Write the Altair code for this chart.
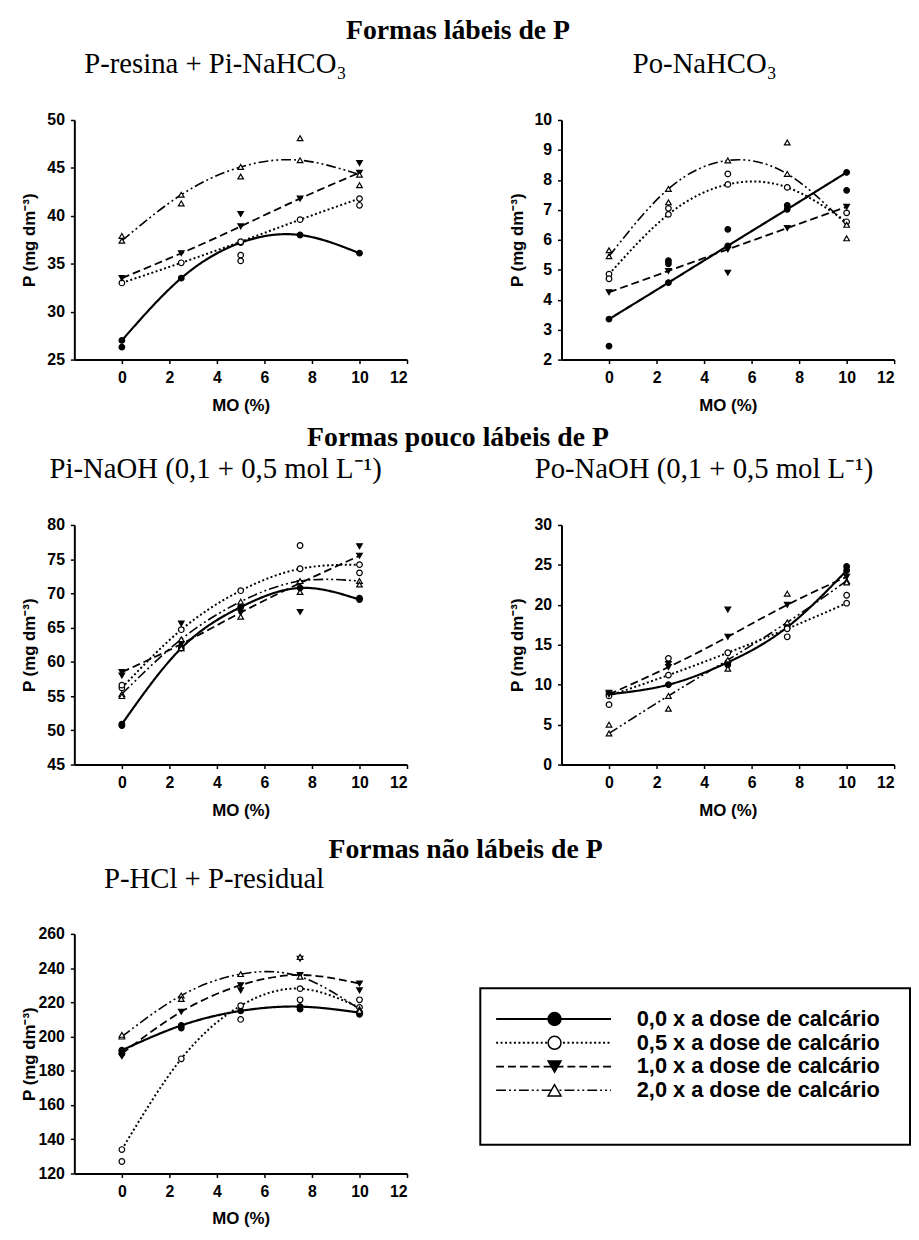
import altair as alt
import pandas as pd

# ---------------- data ----------------
MO = [0, 2.5, 5, 7.5, 10]
X_TICKS = [0, 2, 4, 6, 8, 10, 12]
SERIES = [
    "0,0 x a dose de calcário",
    "0,5 x a dose de calcário",
    "1,0 x a dose de calcário",
    "2,0 x a dose de calcário",
]
GROUPS = ["Formas lábeis de P", "Formas pouco lábeis de P", "Formas não lábeis de P"]
SUBTITLES = [
    "P-resina + Pi-NaHCO₃",
    "Po-NaHCO₃",
    "Pi-NaOH (0,1 + 0,5 mol L⁻¹)",
    "Po-NaOH (0,1 + 0,5 mol L⁻¹)",
    "P-HCl + P-residual",
]

# P-resina + Pi-NaHCO3 : fitted values at MO, and observed points (MO, P)
RES_00 = [27.0, 33.5, 37.2, 38.0, 36.1]
RES_05 = [33.0, 35.1, 37.3, 39.6, 41.8]
RES_10 = [33.5, 36.1, 38.9, 41.8, 44.5]
RES_20 = [37.4, 42.2, 45.1, 45.8, 44.3]
RES_OBS_00 = [(0, 26.3)]
RES_OBS_05 = [(5, 35.9), (5, 35.3), (10, 41.1)]
RES_OBS_10 = [(5, 40.2), (10, 45.5)]
RES_OBS_20 = [(0, 37.9), (2.5, 41.3), (5, 44.1), (7.5, 48.1), (10, 43.2)]

# Po-NaHCO3
PON_00 = [3.35, 4.57, 5.8, 7.02, 8.25]
PON_05 = [4.85, 6.85, 7.85, 7.75, 6.6]
PON_10 = [4.25, 4.96, 5.68, 6.39, 7.1]
PON_20 = [5.45, 7.7, 8.65, 8.2, 6.5]
PON_OBS_00 = [(0, 2.45), (2.5, 5.3), (2.5, 5.2), (5, 6.35), (7.5, 7.15), (10, 7.65)]
PON_OBS_05 = [(0, 4.7), (2.5, 7.05), (5, 8.2), (10, 6.9)]
PON_OBS_10 = [(5, 4.9)]
PON_OBS_20 = [(0, 5.65), (2.5, 7.25), (7.5, 9.25), (10, 6.05)]

# Pi-NaOH
PIH_00 = [50.9, 62.0, 68.0, 70.8, 69.1]
PIH_05 = [56.2, 64.7, 70.4, 73.6, 74.2]
PIH_10 = [58.5, 62.6, 67.2, 71.5, 75.5]
PIH_20 = [55.3, 63.3, 68.8, 71.8, 71.8]
PIH_OBS_00 = [(0, 50.7), (10, 69.3)]
PIH_OBS_05 = [(0, 56.6), (7.5, 77.0), (10, 73.0)]
PIH_OBS_10 = [(0, 58.0), (2.5, 65.6), (7.5, 67.3), (10, 76.9)]
PIH_OBS_20 = [(0, 55.0), (2.5, 62.0), (5, 66.6), (7.5, 70.2), (10, 71.3)]

# Po-NaOH
POH_00 = [8.8, 10.0, 12.8, 17.2, 24.3]
POH_05 = [8.6, 11.2, 14.0, 17.0, 20.2]
POH_10 = [8.8, 12.2, 16.0, 20.0, 23.5]
POH_20 = [3.9, 8.6, 13.1, 17.8, 23.0]
POH_OBS_00 = [(10, 24.8), (5, 12.5)]
POH_OBS_05 = [(0, 7.5), (2.5, 13.3), (7.5, 16.0), (10, 21.2)]
POH_OBS_10 = [(0, 9.0), (2.5, 12.6), (5, 19.4)]
POH_OBS_20 = [(0, 5.0), (2.5, 7.0), (5, 12.0), (7.5, 21.4), (10, 22.8)]

# P-HCl + P-residual
HCL_00 = [192, 206.5, 215, 217.5, 214]
HCL_05 = [134, 187, 218, 228, 217]
HCL_10 = [190, 214.5, 230, 236, 231]
HCL_20 = [200, 224, 236.5, 235, 216]
HCL_OBS_00 = [(0, 190), (2.5, 205), (7.5, 216), (10, 213)]
HCL_OBS_05 = [(0, 127), (5, 210), (7.5, 221.5), (10, 221.5)]
HCL_OBS_10 = [(0, 188.5), (5, 227), (7.5, 245.5), (10, 227)]
HCL_OBS_20 = [(0, 201), (2.5, 222), (7.5, 246.5), (10, 215)]

# ---------------- styles ----------------
DASHES = [[1, 0], [2, 2.5], [8, 4], [10, 3, 2, 3, 2, 3]]
WIDTHS = [2.2, 1.6, 2.2, 2.0]
SHAPES = ["circle", "circle", "triangle-down", "triangle-up"]
FILLS = ["black", "white", "black", "white"]
PW, PH = 336, 242
AX_FONT = "Liberation Sans"
SERIF = "Liberation Serif"

dash_enc = alt.StrokeDash("serie:N", scale=alt.Scale(domain=SERIES, range=DASHES), legend=None)
width_enc = alt.StrokeWidth("serie:N", scale=alt.Scale(domain=SERIES, range=WIDTHS), legend=None)
shape_enc = alt.Shape("serie:N", scale=alt.Scale(domain=SERIES, range=SHAPES), legend=None)
fill_enc = alt.Fill("serie:N", scale=alt.Scale(domain=SERIES, range=FILLS), legend=None)


def panel(fits, obs, ydom, yvals, sub, dx, ytitle_pad=8, sub_offset=33):
    fit_rows = []
    for s, vals in zip(SERIES, fits):
        for xv, yv in zip(MO, vals):
            fit_rows.append({"mo": xv, "p": yv, "serie": s})
    obs_rows = []
    for s, pts in zip(SERIES, obs):
        for xv, yv in pts:
            obs_rows.append({"mo": xv, "p": yv, "serie": s})
    fit_df = pd.DataFrame(fit_rows)
    pts_df = pd.concat([fit_df, pd.DataFrame(obs_rows)], ignore_index=True)

    x = alt.X("mo:Q", scale=alt.Scale(domain=[-2, 12], nice=False, zero=False),
              axis=alt.Axis(values=X_TICKS, title="MO (%)", format="d"))
    y = alt.Y("p:Q", scale=alt.Scale(domain=ydom, nice=False, zero=False),
              axis=alt.Axis(values=yvals, title="P (mg dm⁻³)", titlePadding=ytitle_pad, format="d"))
    lines = alt.Chart(fit_df).mark_line(interpolate="natural", color="black").encode(
        x=x, y=y, strokeDash=dash_enc, strokeWidth=width_enc, detail="serie:N")
    points = alt.Chart(pts_df).mark_point(filled=True, stroke="black", strokeWidth=1.2, size=32, opacity=1).encode(
        x=x, y=y, shape=shape_enc, fill=fill_enc)
    return alt.layer(lines, points).properties(
        width=PW, height=PH,
        title=alt.TitleParams(sub, anchor="start", frame="group", dx=dx, fontSize=29,
                              font=SERIF, fontWeight="normal", offset=sub_offset),
    )


p1 = panel([RES_00, RES_05, RES_10, RES_20], [RES_OBS_00, RES_OBS_05, RES_OBS_10, RES_OBS_20],
           [25, 50], [25, 30, 35, 40, 45, 50], SUBTITLES[0], 10)
p2 = panel([PON_00, PON_05, PON_10, PON_20], [PON_OBS_00, PON_OBS_05, PON_OBS_10, PON_OBS_20],
           [2, 10], [2, 3, 4, 5, 6, 7, 8, 9, 10], SUBTITLES[1], 72)
p3 = panel([PIH_00, PIH_05, PIH_10, PIH_20], [PIH_OBS_00, PIH_OBS_05, PIH_OBS_10, PIH_OBS_20],
           [45, 80], [45, 50, 55, 60, 65, 70, 75, 80], SUBTITLES[2], -25)
p4 = panel([POH_00, POH_05, POH_10, POH_20], [POH_OBS_00, POH_OBS_05, POH_OBS_10, POH_OBS_20],
           [0, 30], [0, 5, 10, 15, 20, 25, 30], SUBTITLES[3], -27)
p5 = panel([HCL_00, HCL_05, HCL_10, HCL_20], [HCL_OBS_00, HCL_OBS_05, HCL_OBS_10, HCL_OBS_20],
           [120, 260], [120, 140, 160, 180, 200, 220, 240, 260], SUBTITLES[4], 30,
           ytitle_pad=0, sub_offset=32)

# ---------------- legend panel ----------------
LEG_W, LEG_H = 434, 213
leg_df = pd.DataFrame({"serie": SERIES})
frame_df = pd.DataFrame({"serie": SERIES[:1]})
ly = alt.Y("serie:N", scale=alt.Scale(type="point", domain=SERIES, range=[86, 158], padding=0), axis=None)
leg_frame = alt.Chart(frame_df).mark_rect(fill="white", stroke="black", strokeWidth=2).encode(
    x=alt.value(0), x2=alt.value(LEG_W), y=alt.value(55), y2=alt.value(LEG_H))
leg_lines = alt.Chart(leg_df).mark_rule(color="black").encode(
    y=ly, x=alt.value(16), x2=alt.value(132), strokeDash=dash_enc, strokeWidth=width_enc)
leg_pts = alt.Chart(leg_df).mark_point(filled=True, stroke="black", strokeWidth=1.5, size=170, opacity=1).encode(
    y=ly, x=alt.value(75), shape=shape_enc, fill=fill_enc)
leg_txt = alt.Chart(leg_df).mark_text(align="left", baseline="middle", font=AX_FONT, fontWeight="bold",
                                      fontSize=22, color="black").encode(
    y=ly, x=alt.value(158), text="serie:N")
legend = alt.layer(leg_frame, leg_lines, leg_pts, leg_txt).properties(width=LEG_W, height=LEG_H)


def group_title(t, off):
    return alt.TitleParams(t, anchor="middle", fontSize=28, font=SERIF, fontWeight="bold", offset=off)


row1 = alt.hconcat(p1, p2, spacing=101, title=group_title(GROUPS[0], 6))
row2 = alt.hconcat(p3, p4, spacing=101, title=group_title(GROUPS[1], 4))
row3 = alt.hconcat(p5, legend, spacing=72, title=group_title(GROUPS[2], 2))

top = alt.vconcat(row1, row2, spacing=11)
chart = alt.vconcat(top, row3, spacing=18).properties(
    padding={"left": 12, "top": 3, "right": 0, "bottom": 0}
).configure_view(stroke=None).configure_axis(
    labelFont=AX_FONT, labelFontWeight="bold", labelFontSize=16, labelColor="black",
    titleFont=AX_FONT, titleFontWeight="bold", titleFontSize=17, titleColor="black",
    domainColor="black", domainWidth=2, tickColor="black", tickSize=4, tickWidth=1.5,
    labelPadding=6, titlePadding=12, grid=False,
).configure_title(color="black")

chart.save("out.html", embed_options={"renderer": "svg", "actions": False})
